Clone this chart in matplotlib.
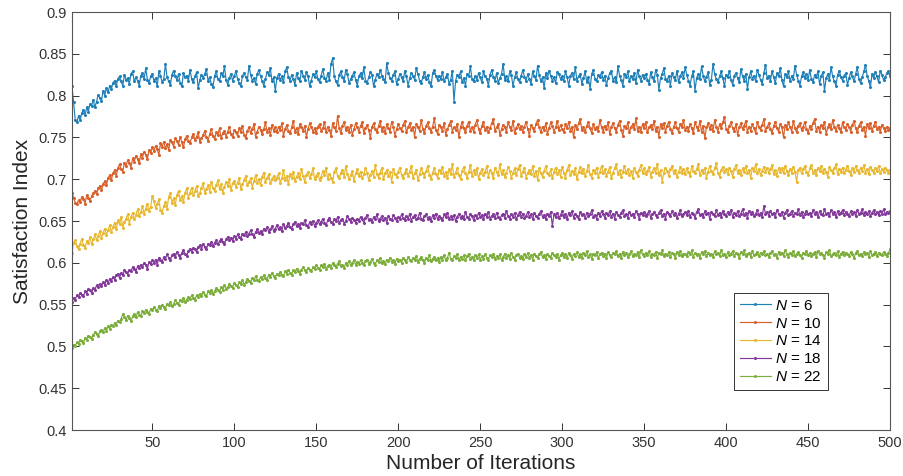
import numpy as np
import matplotlib
matplotlib.use('Agg')
import matplotlib.pyplot as plt

plt.rcParams['font.family'] = ['Liberation Sans', 'DejaVu Sans']
plt.rcParams['mathtext.fontset'] = 'custom'
plt.rcParams['mathtext.it'] = 'Liberation Sans:italic'
plt.rcParams['mathtext.rm'] = 'Liberation Sans'

##### data (satisfaction index x 1000) #####

iterations = list(range(1, 501))

n6 = [
    811,792,771,768,776,771,779,783,777,786,781,790,788,795,786,793,801,797,794,806,800,809,804,812,808,
    815,818,811,820,823,817,812,825,819,821,814,826,829,817,822,818,812,824,827,820,833,819,815,823,826,
    818,821,811,829,824,816,820,838,822,817,813,825,830,823,819,826,815,811,827,822,824,818,831,820,816,
    823,828,809,819,825,821,826,832,818,822,814,810,824,829,820,817,827,823,835,819,813,821,826,818,823,
    830,820,815,811,824,827,822,819,836,825,818,821,814,826,831,823,818,812,820,828,825,833,817,822,806,
    821,826,819,823,816,829,834,822,818,825,820,813,827,821,817,830,824,819,828,823,811,818,826,822,829,
    820,816,824,832,821,818,827,819,838,845,823,817,813,825,829,822,818,831,826,815,820,824,828,819,812,
    823,827,821,834,818,815,822,828,825,811,819,826,822,831,824,820,816,839,827,821,818,825,829,814,820,
    826,822,817,830,823,812,821,827,824,819,833,826,818,815,822,828,820,825,816,811,827,831,823,819,824,
    820,828,817,822,826,814,819,830,793,818,825,822,829,816,821,812,826,823,835,820,817,824,819,827,822,
    816,829,823,820,812,825,831,822,818,827,815,821,826,838,819,823,817,829,825,811,822,828,820,816,824,
    831,822,818,826,820,814,829,823,819,836,825,817,822,809,827,821,830,824,818,822,815,828,826,820,823,
    817,829,822,812,824,827,820,834,818,823,826,814,821,829,816,822,808,826,831,820,817,825,822,828,819,
    824,813,821,827,830,818,822,816,835,824,819,812,826,822,829,817,823,820,827,815,831,823,818,825,821,
    826,819,814,828,822,817,831,825,807,821,826,833,820,818,824,812,827,822,819,830,816,823,828,821,834,
    825,818,812,823,829,806,821,826,820,835,824,817,822,828,813,819,838,826,820,816,823,829,821,811,825,
    822,830,819,813,824,827,821,816,832,823,818,826,808,822,829,820,824,817,831,825,819,814,827,837,821,
    824,818,829,822,815,827,823,833,819,811,826,822,829,817,824,820,836,825,818,812,823,828,821,826,819,
    831,820,816,825,822,829,814,823,828,806,821,826,819,834,823,817,812,825,830,822,818,824,827,813,821,
    828,823,817,826,834,820,815,822,829,837,824,818,810,826,821,828,823,816,830,825,819,822,827,829,824,
]

n10 = [
    683,678,672,670,675,673,679,676,671,681,677,674,680,683,686,682,689,692,687,694,698,693,701,705,699,
    707,711,704,713,718,712,709,720,716,723,719,714,725,721,728,724,719,730,726,733,729,724,735,731,738,
    734,740,736,729,743,739,745,737,742,735,747,744,739,749,746,741,751,744,738,748,752,746,743,750,754,
    747,751,756,745,749,753,758,750,746,754,760,752,748,756,753,761,749,755,758,751,757,763,754,750,759,
    756,752,761,757,764,753,749,758,762,755,760,766,751,757,763,759,754,760,768,757,761,753,765,758,762,
    756,763,759,767,752,760,765,758,755,762,770,757,761,754,766,762,758,764,751,760,767,763,757,761,755,
    763,766,758,761,769,756,763,759,752,767,762,758,776,761,755,764,769,759,762,757,765,753,760,767,762,
    757,764,768,755,761,765,759,749,763,767,760,756,764,770,758,762,755,766,761,757,769,763,752,760,766,
    761,758,765,770,756,762,767,759,763,751,766,762,758,771,760,755,764,768,761,757,763,773,759,754,765,
    762,758,767,753,760,765,770,757,762,759,766,750,763,768,761,756,764,769,758,762,757,765,771,760,755,
    764,768,759,763,756,761,767,772,758,762,766,753,760,765,762,757,768,763,759,770,755,761,766,760,764,
    757,763,769,760,752,765,761,758,766,771,762,756,763,759,767,754,761,768,764,757,762,770,759,765,760,
    756,766,761,769,758,763,750,765,760,767,772,759,762,757,764,769,761,755,766,760,763,758,771,762,757,
    764,760,768,754,763,767,761,757,765,770,759,752,764,761,768,756,762,766,760,773,758,763,757,766,761,
    768,756,762,765,760,770,758,763,751,766,761,767,757,764,769,760,755,763,768,761,757,766,762,771,759,
    763,758,766,761,755,768,763,759,770,757,764,749,762,767,760,765,758,771,763,757,766,761,768,775,760,
    756,764,768,761,758,766,753,762,767,760,764,770,757,763,758,766,761,755,768,763,759,765,772,758,762,
    767,760,755,764,769,761,757,766,762,750,765,760,768,763,757,770,761,756,764,767,759,763,769,760,755,
    764,760,767,772,758,763,757,765,761,769,754,762,766,760,771,763,758,765,761,756,768,762,759,766,763,
    757,765,770,761,756,764,768,759,763,752,766,761,767,758,764,769,760,763,757,765,761,758,763,759,761,
]

n14 = [
    612,624,627,620,616,623,629,621,618,626,624,631,622,628,634,627,632,638,630,636,641,633,639,645,637,
    643,648,640,651,646,655,642,649,653,658,647,655,660,652,657,664,656,661,668,659,665,671,662,667,680,
    674,666,671,676,663,660,668,673,665,679,684,672,677,669,681,686,675,680,673,684,689,678,683,690,681,
    686,692,680,684,690,695,683,688,693,685,697,690,686,693,699,688,694,684,691,697,692,700,687,695,698,
    691,696,702,688,694,699,704,693,697,701,690,698,705,696,700,693,703,708,697,701,706,695,700,704,699,
    702,707,696,701,711,699,704,694,706,701,709,698,703,707,700,712,704,697,705,709,701,706,713,700,704,
    708,699,703,710,705,714,700,706,702,697,709,713,704,701,708,711,703,716,706,700,705,710,698,707,712,
    704,709,701,706,713,708,699,705,710,703,717,706,702,708,714,700,707,711,704,709,697,712,706,703,709,
    714,705,701,708,712,704,709,716,702,707,711,699,706,713,708,703,710,716,705,700,708,713,706,702,711,
    707,715,704,709,701,712,706,718,703,708,713,705,700,710,715,707,702,709,717,704,711,706,713,700,708,
    712,705,709,716,703,711,707,701,714,709,705,718,706,711,703,708,715,710,702,707,713,705,712,717,704,
    709,714,702,708,711,706,716,704,710,699,713,707,703,710,716,708,705,712,701,709,714,706,711,703,715,
    708,702,711,717,705,710,706,713,700,709,715,707,712,704,710,717,706,702,711,708,714,703,709,716,707,
    712,704,709,715,701,708,713,718,706,711,703,709,716,707,712,705,710,702,714,709,704,711,717,708,713,
    706,710,715,703,709,713,707,718,705,711,697,708,714,710,704,712,716,707,711,703,709,715,708,712,706,
    713,709,704,716,710,707,712,718,705,711,708,714,702,709,716,710,706,713,719,708,703,711,715,709,712,
    706,714,710,703,712,717,708,711,705,713,709,716,707,711,702,714,710,718,707,712,705,710,715,709,713,
    708,712,717,706,711,704,714,709,713,707,716,710,705,712,708,715,709,697,711,714,707,712,716,709,705,
    713,717,708,711,705,714,710,716,707,712,709,703,715,711,708,713,718,706,712,709,714,707,711,716,710,
    705,713,709,716,711,707,714,710,717,708,712,706,715,711,708,713,710,716,707,712,709,714,711,708,711,
]

n18 = [
    553,558,556,561,559,564,562,560,566,563,569,567,564,570,568,573,571,575,572,577,574,579,576,581,578,
    583,580,585,587,582,588,585,591,589,586,592,590,595,593,589,596,594,598,595,600,597,593,601,599,603,
    600,604,598,606,603,601,607,605,610,606,603,609,611,607,613,609,606,612,615,611,608,614,617,613,618,
    616,613,619,621,617,622,619,616,623,621,625,620,624,627,622,626,629,625,622,628,631,627,630,626,632,
    629,634,631,628,635,633,637,632,635,639,634,631,637,640,636,638,634,641,639,643,637,640,644,638,641,
    645,640,643,638,646,642,644,648,643,641,646,649,644,647,642,648,646,651,645,643,649,647,650,644,648,
    651,646,649,653,648,645,651,654,649,647,652,650,655,648,651,653,647,650,656,652,649,654,651,648,653,
    650,655,652,648,654,657,651,653,649,655,652,658,650,653,656,651,654,648,656,653,651,657,654,650,655,
    652,658,654,651,656,653,659,650,655,657,652,654,660,653,651,656,658,653,655,650,657,654,659,652,656,
    654,651,658,655,660,652,656,653,657,650,655,659,654,656,652,661,655,653,658,656,651,657,654,660,655,
    657,652,659,655,661,653,656,658,654,660,655,652,657,659,654,662,656,653,658,655,660,652,657,661,655,
    659,654,656,661,655,658,652,660,656,654,659,662,655,657,653,659,656,661,644,658,655,660,654,657,662,
    655,658,653,660,657,662,654,659,656,652,661,657,659,654,660,656,658,663,655,657,653,660,656,662,658,
    654,660,657,662,655,659,653,661,657,655,660,663,656,658,654,661,657,659,655,662,658,653,660,657,661,
    656,659,662,654,658,661,657,655,660,663,656,659,653,661,658,656,662,657,660,654,659,663,656,658,661,
    657,662,655,660,658,654,661,664,657,659,655,662,658,660,653,661,659,656,663,657,660,655,662,658,656,
    661,658,663,655,660,657,662,656,659,664,657,660,654,662,658,661,656,659,663,657,660,655,668,659,661,
    656,662,658,660,655,663,659,657,661,654,660,663,657,659,662,656,660,658,664,657,661,655,659,662,658,
    660,656,663,658,661,655,662,659,657,664,658,660,656,663,659,661,655,662,658,660,663,657,661,659,656,
    662,658,661,656,663,659,660,664,657,661,658,662,656,660,663,658,661,657,662,659,664,658,661,660,662,
]

n22 = [
    498,502,500,505,503,508,506,504,510,508,513,511,509,514,517,515,512,518,520,517,522,519,524,521,526,
    524,528,526,531,529,533,539,535,532,537,534,530,536,539,535,541,538,536,542,540,544,541,539,545,543,
    547,544,542,548,546,550,547,545,551,549,553,548,551,555,552,550,556,554,558,553,556,559,557,561,558,
    556,561,559,563,560,565,562,560,566,564,568,563,566,570,567,565,571,568,573,569,571,575,572,570,576,
    574,571,577,575,579,574,577,581,578,576,582,579,584,580,578,583,581,585,582,580,586,583,588,584,582,
    587,585,589,586,584,590,587,592,588,586,591,589,593,590,587,592,595,591,589,594,592,590,595,593,597,
    594,592,597,595,599,593,596,598,594,600,597,595,599,602,596,598,594,600,598,602,597,600,603,598,601,
    599,603,600,597,602,604,599,601,605,600,598,603,601,606,600,602,599,604,602,606,601,603,599,605,602,
    604,600,606,603,601,607,604,602,606,603,608,601,605,607,603,600,606,604,609,602,605,607,603,606,601,
    607,604,609,603,606,612,605,603,608,606,610,604,607,605,609,603,608,611,605,607,603,609,606,610,604,
    608,605,610,606,604,609,607,611,605,608,606,610,603,607,611,606,609,605,612,607,604,609,611,606,608,
    605,610,607,612,606,609,604,611,608,606,610,613,607,609,605,611,608,606,612,609,607,611,604,609,612,
    607,610,606,612,609,605,611,608,613,607,610,606,612,609,614,607,610,605,611,609,613,606,610,612,608,
    611,606,613,609,607,612,610,614,608,611,606,613,609,612,607,610,614,608,611,609,613,607,615,610,608,
    612,609,614,607,611,609,613,606,612,610,615,608,611,609,613,607,612,610,606,613,609,614,608,611,610,
    608,613,610,615,607,612,609,611,606,613,610,614,608,612,609,611,607,614,610,612,608,615,609,611,607,
    613,609,611,614,608,612,610,606,613,611,615,608,610,612,607,614,609,611,613,608,612,610,614,609,611,
    607,612,614,609,611,606,613,610,612,608,615,610,607,612,609,614,608,611,613,609,606,612,610,614,609,
    612,608,611,613,607,614,610,612,609,606,613,611,615,608,610,612,609,614,607,611,613,609,612,610,608,
    613,610,606,612,614,609,611,608,613,610,612,607,614,609,611,613,608,612,610,609,613,611,608,612,616,
]

series = [n6, n10, n14, n18, n22]
labels = ['$N$ = 6', '$N$ = 10', '$N$ = 14', '$N$ = 18', '$N$ = 22']
# matlab default line colours, a little washed out like the scan
colors = ['#1f80b8', '#d9602a', '#e8b830', '#83399a', '#7bae3a']

fig = plt.figure(figsize=(9.04, 4.76), dpi=100)
ax = fig.add_axes([0.0796, 0.0966, 0.905, 0.878])

for vals, lab, col in zip(series, labels, colors):
    y = np.array(vals) / 1000.0
    ax.plot(iterations[:len(y)], y, color=col, lw=0.85, marker='.', ms=2.4, label=lab)

ax.set_xlim(1, 500)
ax.set_ylim(0.4, 0.9)
ax.set_xticks(range(50, 501, 50))
ax.set_yticks(np.arange(0.4, 0.901, 0.05))
ax.set_yticklabels(['0.4', '0.45', '0.5', '0.55', '0.6', '0.65', '0.7',
                    '0.75', '0.8', '0.85', '0.9'])

ax.tick_params(direction='in', length=5, width=0.7, top=True, right=True,
               labelsize=10.5, colors='#333333', pad=4)
for sp in ax.spines.values():
    sp.set_color('#555555')
    sp.set_linewidth(0.8)

ax.set_xlabel('Number of Iterations', fontsize=15, labelpad=3, color='#262626')
ax.set_ylabel('Satisfaction Index', fontsize=15, labelpad=4, color='#262626')

leg = ax.legend(loc='lower left', bbox_to_anchor=(0.80, 0.077), fontsize=11,
                handlelength=2.0, handletextpad=0.3, borderpad=0.4,
                labelspacing=0.25, fancybox=False, framealpha=1,
                edgecolor='#333333')
leg.get_frame().set_linewidth(0.7)

fig.savefig('out.png', dpi=100)
